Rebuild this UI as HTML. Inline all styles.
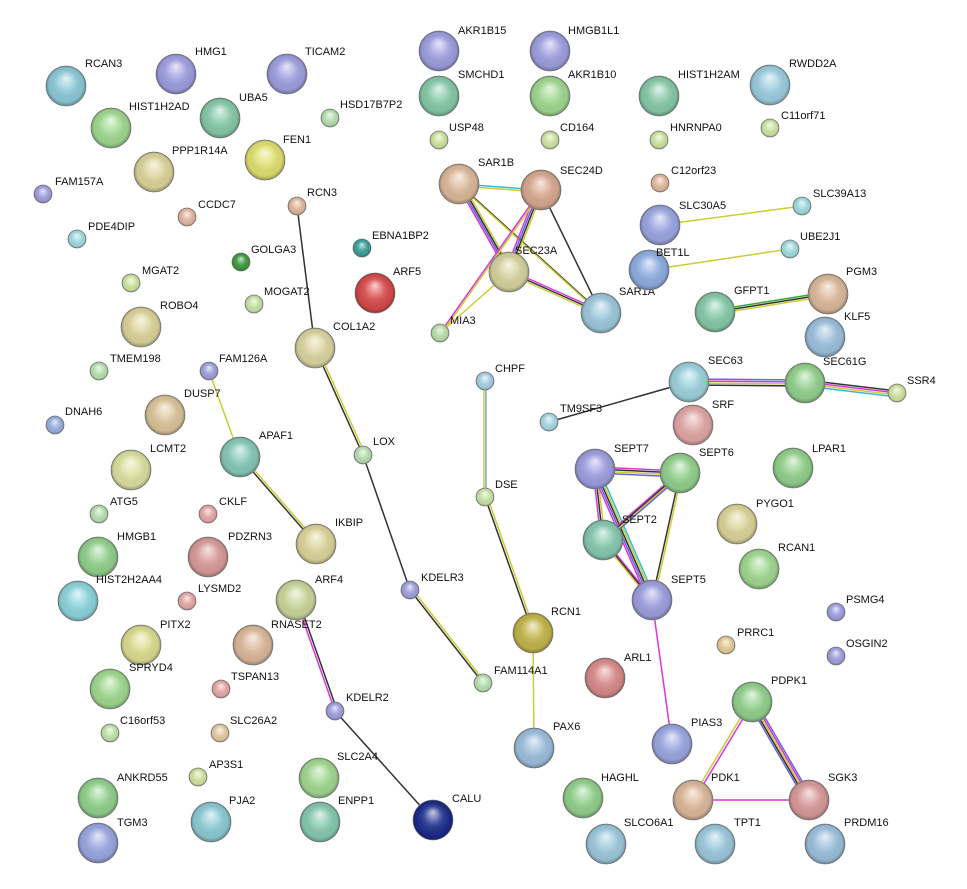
<!DOCTYPE html>
<html><head><meta charset="utf-8"><style>
html,body{margin:0;padding:0;background:#fff;}
svg{display:block}
text{font-family:"Liberation Sans",sans-serif;font-size:11px;fill:#111}
.n{stroke:#888;stroke-width:.8}
</style></head><body>
<svg width="967" height="889" viewBox="0 0 967 889" xmlns="http://www.w3.org/2000/svg">
<defs>
<radialGradient id="s" cx="0.5" cy="0.5" r="0.5" fx="0.5" fy="0.3">
<stop offset="0" stop-color="#fff" stop-opacity="0.75"/>
<stop offset="0.45" stop-color="#fff" stop-opacity="0.15"/>
<stop offset="0.85" stop-color="#000" stop-opacity="0.05"/>
<stop offset="1" stop-color="#000" stop-opacity="0.3"/>
</radialGradient>
</defs>
<!-- edges -->
<g fill="none" stroke-width="1.5">
<line x1="297" y1="206" x2="315" y2="348" stroke="#333"/>
<line x1="315" y1="348" x2="363" y2="455" stroke="#333"/><line x1="317" y1="347" x2="365" y2="454" stroke="#cc3"/>
<line x1="363" y1="455" x2="410" y2="590" stroke="#333"/>
<line x1="410" y1="590" x2="483" y2="683" stroke="#333"/><line x1="412" y1="589" x2="485" y2="682" stroke="#cc3"/>
<line x1="209" y1="371" x2="240" y2="457" stroke="#cc3"/>
<line x1="240" y1="457" x2="316" y2="544" stroke="#333"/><line x1="242" y1="456" x2="318" y2="543" stroke="#cc3"/>
<line x1="296" y1="600" x2="335" y2="711" stroke="#d3d"/><line x1="298" y1="599" x2="337" y2="710" stroke="#333"/>
<line x1="335" y1="711" x2="433" y2="820" stroke="#333"/>
<line x1="484" y1="381" x2="484" y2="497" stroke="#cc3"/><line x1="486" y1="381" x2="486" y2="497" stroke="#6ad"/>
<line x1="485" y1="497" x2="533" y2="633" stroke="#333"/><line x1="487" y1="496" x2="535" y2="632" stroke="#cc3"/>
<line x1="533" y1="633" x2="534" y2="748" stroke="#cc3"/>
<line x1="459" y1="184" x2="541" y2="190" stroke="#3bd"/><line x1="459" y1="186" x2="541" y2="192" stroke="#cc3"/>
<line x1="457" y1="184" x2="507" y2="272" stroke="#d3d"/><line x1="459" y1="184" x2="509" y2="272" stroke="#66d"/><line x1="461" y1="184" x2="511" y2="272" stroke="#333"/><line x1="463" y1="184" x2="513" y2="272" stroke="#cc3"/>
<line x1="459" y1="184" x2="601" y2="313" stroke="#333"/><line x1="460" y1="186" x2="602" y2="315" stroke="#cc3"/>
<line x1="537" y1="190" x2="505" y2="272" stroke="#d3d"/><line x1="539" y1="190" x2="507" y2="272" stroke="#66d"/><line x1="541" y1="190" x2="509" y2="272" stroke="#333"/><line x1="543" y1="190" x2="511" y2="272" stroke="#cc3"/>
<line x1="541" y1="190" x2="601" y2="313" stroke="#333"/>
<line x1="509" y1="270" x2="601" y2="311" stroke="#d3d"/><line x1="509" y1="272" x2="601" y2="313" stroke="#333"/><line x1="509" y1="274" x2="601" y2="315" stroke="#cc3"/>
<line x1="509" y1="272" x2="440" y2="333" stroke="#cc3"/>
<line x1="440" y1="333" x2="541" y2="190" stroke="#d3d"/><line x1="442" y1="333" x2="543" y2="190" stroke="#cc3"/>
<line x1="660" y1="225" x2="802" y2="206" stroke="#cc3"/>
<line x1="649" y1="270" x2="790" y2="249" stroke="#cc3"/>
<line x1="715" y1="310" x2="828" y2="292" stroke="#3a3"/><line x1="715" y1="312" x2="828" y2="294" stroke="#333"/><line x1="715" y1="314" x2="828" y2="296" stroke="#cc3"/>
<line x1="689" y1="382" x2="549" y2="422" stroke="#333"/>
<line x1="689" y1="379" x2="805" y2="380" stroke="#66d"/><line x1="689" y1="381" x2="805" y2="382" stroke="#d3d"/><line x1="689" y1="383" x2="805" y2="384" stroke="#cc3"/><line x1="689" y1="385" x2="805" y2="386" stroke="#333"/>
<line x1="805" y1="380" x2="897" y2="391" stroke="#333"/><line x1="805" y1="382" x2="897" y2="393" stroke="#d3d"/><line x1="805" y1="384" x2="897" y2="395" stroke="#cc3"/><line x1="805" y1="386" x2="897" y2="397" stroke="#3bd"/>
<g>
<line x1="595" y1="467" x2="680" y2="471" stroke="#d3d"/><line x1="595" y1="469" x2="680" y2="473" stroke="#333"/><line x1="595" y1="471" x2="680" y2="475" stroke="#cc3"/><line x1="595" y1="473" x2="680" y2="477" stroke="#66d"/>
<line x1="593" y1="469" x2="601" y2="540" stroke="#d3d"/><line x1="595" y1="469" x2="603" y2="540" stroke="#333"/><line x1="597" y1="469" x2="605" y2="540" stroke="#cc3"/>
<line x1="591" y1="469" x2="648" y2="600" stroke="#d3d"/><line x1="593" y1="469" x2="650" y2="600" stroke="#66d"/><line x1="595" y1="469" x2="652" y2="600" stroke="#333"/><line x1="597" y1="469" x2="654" y2="600" stroke="#cc3"/><line x1="599" y1="469" x2="656" y2="600" stroke="#3bd"/>
<line x1="678" y1="473" x2="601" y2="540" stroke="#d3d"/><line x1="680" y1="473" x2="603" y2="540" stroke="#333"/><line x1="682" y1="473" x2="605" y2="540" stroke="#cc3"/><line x1="684" y1="473" x2="607" y2="540" stroke="#66d"/>
<line x1="680" y1="473" x2="652" y2="600" stroke="#333"/><line x1="682" y1="473" x2="654" y2="600" stroke="#cc3"/>
<line x1="603" y1="538" x2="652" y2="598" stroke="#d3d"/><line x1="603" y1="540" x2="652" y2="600" stroke="#333"/><line x1="603" y1="542" x2="652" y2="602" stroke="#cc3"/>
</g>
<line x1="652" y1="600" x2="672" y2="744" stroke="#d3d"/>
<line x1="750" y1="702" x2="691" y2="800" stroke="#cc3"/><line x1="753" y1="702" x2="694" y2="800" stroke="#d3d"/>
<line x1="748" y1="702" x2="805" y2="800" stroke="#66d"/><line x1="750" y1="702" x2="807" y2="800" stroke="#333"/><line x1="752" y1="702" x2="809" y2="800" stroke="#cc3"/><line x1="754" y1="702" x2="811" y2="800" stroke="#d3d"/><line x1="756" y1="702" x2="813" y2="800" stroke="#66d"/>
<line x1="693" y1="800" x2="809" y2="800" stroke="#d3d"/>
</g>
<!-- nodes -->
<g class="nodes">
<circle class="n" cx="66" cy="86" r="20" fill="#8cc8d8"/><circle cx="66" cy="86" r="20" fill="url(#s)"/><text x="85" y="67">RCAN3</text>
<circle class="n" cx="176" cy="74" r="20" fill="#9e9ee0"/><circle cx="176" cy="74" r="20" fill="url(#s)"/><text x="195" y="55">HMG1</text>
<circle class="n" cx="287" cy="74" r="20" fill="#9e9ee0"/><circle cx="287" cy="74" r="20" fill="url(#s)"/><text x="305" y="55">TICAM2</text>
<circle class="n" cx="220" cy="118" r="20" fill="#86c9a8"/><circle cx="220" cy="118" r="20" fill="url(#s)"/><text x="239" y="101">UBA5</text>
<circle class="n" cx="111" cy="128" r="20" fill="#a0d890"/><circle cx="111" cy="128" r="20" fill="url(#s)"/><text x="129" y="110">HIST1H2AD</text>
<circle class="n" cx="265" cy="160" r="20" fill="#e0e070"/><circle cx="265" cy="160" r="20" fill="url(#s)"/><text x="283" y="143">FEN1</text>
<circle class="n" cx="154" cy="172" r="20" fill="#dcd49a"/><circle cx="154" cy="172" r="20" fill="url(#s)"/><text x="172" y="154">PPP1R14A</text>
<circle class="n" cx="439" cy="51" r="20" fill="#9e9ee0"/><circle cx="439" cy="51" r="20" fill="url(#s)"/><text x="458" y="34">AKR1B15</text>
<circle class="n" cx="550" cy="51" r="20" fill="#9e9ee0"/><circle cx="550" cy="51" r="20" fill="url(#s)"/><text x="568" y="34">HMGB1L1</text>
<circle class="n" cx="439" cy="96" r="20" fill="#86c9a8"/><circle cx="439" cy="96" r="20" fill="url(#s)"/><text x="458" y="78">SMCHD1</text>
<circle class="n" cx="550" cy="96" r="20" fill="#a0d890"/><circle cx="550" cy="96" r="20" fill="url(#s)"/><text x="568" y="78">AKR1B10</text>
<circle class="n" cx="659" cy="96" r="20" fill="#86c9a8"/><circle cx="659" cy="96" r="20" fill="url(#s)"/><text x="678" y="78">HIST1H2AM</text>
<circle class="n" cx="770" cy="85" r="20" fill="#9ccde0"/><circle cx="770" cy="85" r="20" fill="url(#s)"/><text x="789" y="67">RWDD2A</text>
<circle class="n" cx="459" cy="184" r="20" fill="#dcb89a"/><circle cx="459" cy="184" r="20" fill="url(#s)"/><text x="478" y="166">SAR1B</text>
<circle class="n" cx="541" cy="190" r="20" fill="#d8a890"/><circle cx="541" cy="190" r="20" fill="url(#s)"/><text x="560" y="174">SEC24D</text>
<circle class="n" cx="509" cy="272" r="20" fill="#d6d29e"/><circle cx="509" cy="272" r="20" fill="url(#s)"/><text x="515" y="254">SEC23A</text>
<circle class="n" cx="601" cy="313" r="20" fill="#9cc8dc"/><circle cx="601" cy="313" r="20" fill="url(#s)"/><text x="619" y="295">SAR1A</text>
<circle class="n" cx="660" cy="225" r="20" fill="#9aa6e0"/><circle cx="660" cy="225" r="20" fill="url(#s)"/><text x="679" y="209">SLC30A5</text>
<circle class="n" cx="649" cy="270" r="20" fill="#8eaee0"/><circle cx="649" cy="270" r="20" fill="url(#s)"/><text x="656" y="256">BET1L</text>
<circle class="n" cx="375" cy="293" r="20" fill="#d84a4a"/><circle cx="375" cy="293" r="20" fill="url(#s)"/><text x="393" y="275">ARF5</text>
<circle class="n" cx="715" cy="312" r="20" fill="#86c9a8"/><circle cx="715" cy="312" r="20" fill="url(#s)"/><text x="734" y="294">GFPT1</text>
<circle class="n" cx="828" cy="294" r="20" fill="#dcb89a"/><circle cx="828" cy="294" r="20" fill="url(#s)"/><text x="846" y="275">PGM3</text>
<circle class="n" cx="825" cy="337" r="20" fill="#9cc0dc"/><circle cx="825" cy="337" r="20" fill="url(#s)"/><text x="844" y="320">KLF5</text>
<circle class="n" cx="315" cy="348" r="20" fill="#dcd4a0"/><circle cx="315" cy="348" r="20" fill="url(#s)"/><text x="333" y="330">COL1A2</text>
<circle class="n" cx="141" cy="327" r="20" fill="#dcd49a"/><circle cx="141" cy="327" r="20" fill="url(#s)"/><text x="160" y="309">ROBO4</text>
<circle class="n" cx="165" cy="415" r="20" fill="#dcc49a"/><circle cx="165" cy="415" r="20" fill="url(#s)"/><text x="184" y="397">DUSP7</text>
<circle class="n" cx="689" cy="382" r="20" fill="#9cd2dc"/><circle cx="689" cy="382" r="20" fill="url(#s)"/><text x="708" y="364">SEC63</text>
<circle class="n" cx="805" cy="383" r="20" fill="#92d08c"/><circle cx="805" cy="383" r="20" fill="url(#s)"/><text x="823" y="365">SEC61G</text>
<circle class="n" cx="693" cy="425" r="20" fill="#e0a6a6"/><circle cx="693" cy="425" r="20" fill="url(#s)"/><text x="712" y="408">SRF</text>
<circle class="n" cx="131" cy="470" r="20" fill="#dce0a0"/><circle cx="131" cy="470" r="20" fill="url(#s)"/><text x="150" y="452">LCMT2</text>
<circle class="n" cx="240" cy="457" r="20" fill="#86c8b8"/><circle cx="240" cy="457" r="20" fill="url(#s)"/><text x="259" y="439">APAF1</text>
<circle class="n" cx="595" cy="469" r="20" fill="#9e9ee0"/><circle cx="595" cy="469" r="20" fill="url(#s)"/><text x="614" y="452">SEPT7</text>
<circle class="n" cx="680" cy="473" r="20" fill="#92d08c"/><circle cx="680" cy="473" r="20" fill="url(#s)"/><text x="699" y="456">SEPT6</text>
<circle class="n" cx="793" cy="468" r="20" fill="#92d08c"/><circle cx="793" cy="468" r="20" fill="url(#s)"/><text x="812" y="452">LPAR1</text>
<circle class="n" cx="603" cy="540" r="20" fill="#86c8b0"/><circle cx="603" cy="540" r="20" fill="url(#s)"/><text x="622" y="523">SEPT2</text>
<circle class="n" cx="737" cy="524" r="20" fill="#dcd49a"/><circle cx="737" cy="524" r="20" fill="url(#s)"/><text x="756" y="507">PYGO1</text>
<circle class="n" cx="316" cy="544" r="20" fill="#dcd49a"/><circle cx="316" cy="544" r="20" fill="url(#s)"/><text x="335" y="526">IKBIP</text>
<circle class="n" cx="98" cy="557" r="20" fill="#92d08c"/><circle cx="98" cy="557" r="20" fill="url(#s)"/><text x="117" y="540">HMGB1</text>
<circle class="n" cx="208" cy="557" r="20" fill="#d89a9a"/><circle cx="208" cy="557" r="20" fill="url(#s)"/><text x="228" y="540">PDZRN3</text>
<circle class="n" cx="78" cy="601" r="20" fill="#8cd4dc"/><circle cx="78" cy="601" r="20" fill="url(#s)"/><text x="96" y="583">HIST2H2AA4</text>
<circle class="n" cx="296" cy="600" r="20" fill="#cad69a"/><circle cx="296" cy="600" r="20" fill="url(#s)"/><text x="315" y="583">ARF4</text>
<circle class="n" cx="759" cy="569" r="20" fill="#a0d890"/><circle cx="759" cy="569" r="20" fill="url(#s)"/><text x="778" y="551">RCAN1</text>
<circle class="n" cx="652" cy="600" r="20" fill="#9e9ee0"/><circle cx="652" cy="600" r="20" fill="url(#s)"/><text x="671" y="583">SEPT5</text>
<circle class="n" cx="253" cy="645" r="20" fill="#dcb89a"/><circle cx="253" cy="645" r="20" fill="url(#s)"/><text x="271" y="628">RNASET2</text>
<circle class="n" cx="141" cy="645" r="20" fill="#dcdc90"/><circle cx="141" cy="645" r="20" fill="url(#s)"/><text x="160" y="628">PITX2</text>
<circle class="n" cx="533" cy="633" r="20" fill="#c4b44a"/><circle cx="533" cy="633" r="20" fill="url(#s)"/><text x="551" y="615">RCN1</text>
<circle class="n" cx="605" cy="678" r="20" fill="#d88a8a"/><circle cx="605" cy="678" r="20" fill="url(#s)"/><text x="624" y="661">ARL1</text>
<circle class="n" cx="110" cy="689" r="20" fill="#a0d890"/><circle cx="110" cy="689" r="20" fill="url(#s)"/><text x="129" y="671">SPRYD4</text>
<circle class="n" cx="752" cy="702" r="20" fill="#92d08c"/><circle cx="752" cy="702" r="20" fill="url(#s)"/><text x="771" y="684">PDPK1</text>
<circle class="n" cx="672" cy="744" r="20" fill="#9aa6e0"/><circle cx="672" cy="744" r="20" fill="url(#s)"/><text x="691" y="726">PIAS3</text>
<circle class="n" cx="534" cy="748" r="20" fill="#9cbedc"/><circle cx="534" cy="748" r="20" fill="url(#s)"/><text x="553" y="730">PAX6</text>
<circle class="n" cx="319" cy="778" r="20" fill="#a0d890"/><circle cx="319" cy="778" r="20" fill="url(#s)"/><text x="337" y="760">SLC2A4</text>
<circle class="n" cx="98" cy="798" r="20" fill="#92d08c"/><circle cx="98" cy="798" r="20" fill="url(#s)"/><text x="117" y="781">ANKRD55</text>
<circle class="n" cx="583" cy="798" r="20" fill="#92d08c"/><circle cx="583" cy="798" r="20" fill="url(#s)"/><text x="601" y="781">HAGHL</text>
<circle class="n" cx="693" cy="800" r="20" fill="#dcb89a"/><circle cx="693" cy="800" r="20" fill="url(#s)"/><text x="711" y="781">PDK1</text>
<circle class="n" cx="809" cy="800" r="20" fill="#d89a9a"/><circle cx="809" cy="800" r="20" fill="url(#s)"/><text x="828" y="781">SGK3</text>
<circle class="n" cx="211" cy="822" r="20" fill="#8ccad4"/><circle cx="211" cy="822" r="20" fill="url(#s)"/><text x="229" y="804">PJA2</text>
<circle class="n" cx="320" cy="822" r="20" fill="#86c8b0"/><circle cx="320" cy="822" r="20" fill="url(#s)"/><text x="338" y="804">ENPP1</text>
<circle class="n" cx="433" cy="820" r="20" fill="#1c2c8c"/><circle cx="433" cy="820" r="20" fill="url(#s)"/><text x="452" y="802">CALU</text>
<circle class="n" cx="98" cy="843" r="20" fill="#9aa6e0"/><circle cx="98" cy="843" r="20" fill="url(#s)"/><text x="117" y="826">TGM3</text>
<circle class="n" cx="606" cy="844" r="20" fill="#9cc8dc"/><circle cx="606" cy="844" r="20" fill="url(#s)"/><text x="624" y="826">SLCO6A1</text>
<circle class="n" cx="715" cy="844" r="20" fill="#9cc8dc"/><circle cx="715" cy="844" r="20" fill="url(#s)"/><text x="734" y="826">TPT1</text>
<circle class="n" cx="825" cy="844" r="20" fill="#9cc0dc"/><circle cx="825" cy="844" r="20" fill="url(#s)"/><text x="844" y="826">PRDM16</text>

<circle class="n" cx="330" cy="118" r="9" fill="#b8e0b0"/><circle cx="330" cy="118" r="9" fill="url(#s)"/><text x="340" y="108">HSD17B7P2</text>
<circle class="n" cx="439" cy="140" r="9" fill="#d0e4a0"/><circle cx="439" cy="140" r="9" fill="url(#s)"/><text x="449" y="131">USP48</text>
<circle class="n" cx="550" cy="140" r="9" fill="#d0e4a0"/><circle cx="550" cy="140" r="9" fill="url(#s)"/><text x="560" y="131">CD164</text>
<circle class="n" cx="659" cy="140" r="9" fill="#d0e4a0"/><circle cx="659" cy="140" r="9" fill="url(#s)"/><text x="670" y="131">HNRNPA0</text>
<circle class="n" cx="770" cy="128" r="9" fill="#d0e4a0"/><circle cx="770" cy="128" r="9" fill="url(#s)"/><text x="781" y="119">C11orf71</text>
<circle class="n" cx="43" cy="194" r="9" fill="#a0a0e0"/><circle cx="43" cy="194" r="9" fill="url(#s)"/><text x="55" y="185">FAM157A</text>
<circle class="n" cx="187" cy="217" r="9" fill="#e4b8a0"/><circle cx="187" cy="217" r="9" fill="url(#s)"/><text x="198" y="208">CCDC7</text>
<circle class="n" cx="297" cy="206" r="9" fill="#e4b8a0"/><circle cx="297" cy="206" r="9" fill="url(#s)"/><text x="307" y="196">RCN3</text>
<circle class="n" cx="660" cy="183" r="9" fill="#e4b8a0"/><circle cx="660" cy="183" r="9" fill="url(#s)"/><text x="671" y="174">C12orf23</text>
<circle class="n" cx="802" cy="206" r="9" fill="#a0dce0"/><circle cx="802" cy="206" r="9" fill="url(#s)"/><text x="813" y="197">SLC39A13</text>
<circle class="n" cx="77" cy="239" r="9" fill="#a0dce0"/><circle cx="77" cy="239" r="9" fill="url(#s)"/><text x="88" y="230">PDE4DIP</text>
<circle class="n" cx="362" cy="248" r="9" fill="#3aa09a"/><circle cx="362" cy="248" r="9" fill="url(#s)"/><text x="372" y="239">EBNA1BP2</text>
<circle class="n" cx="790" cy="249" r="9" fill="#a0dce0"/><circle cx="790" cy="249" r="9" fill="url(#s)"/><text x="800" y="240">UBE2J1</text>
<circle class="n" cx="241" cy="262" r="9" fill="#3c9a3c"/><circle cx="241" cy="262" r="9" fill="url(#s)"/><text x="251" y="253">GOLGA3</text>
<circle class="n" cx="131" cy="283" r="9" fill="#d0e4a0"/><circle cx="131" cy="283" r="9" fill="url(#s)"/><text x="142" y="274">MGAT2</text>
<circle class="n" cx="254" cy="304" r="9" fill="#c8e4a8"/><circle cx="254" cy="304" r="9" fill="url(#s)"/><text x="264" y="295">MOGAT2</text>
<circle class="n" cx="440" cy="333" r="9" fill="#b8e0a8"/><circle cx="440" cy="333" r="9" fill="url(#s)"/><text x="450" y="324">MIA3</text>
<circle class="n" cx="99" cy="371" r="9" fill="#b8e0b0"/><circle cx="99" cy="371" r="9" fill="url(#s)"/><text x="110" y="362">TMEM198</text>
<circle class="n" cx="209" cy="371" r="9" fill="#a0a0e0"/><circle cx="209" cy="371" r="9" fill="url(#s)"/><text x="219" y="362">FAM126A</text>
<circle class="n" cx="485" cy="381" r="9" fill="#a8d0e4"/><circle cx="485" cy="381" r="9" fill="url(#s)"/><text x="495" y="372">CHPF</text>
<circle class="n" cx="897" cy="393" r="9" fill="#d0e4a0"/><circle cx="897" cy="393" r="9" fill="url(#s)"/><text x="907" y="384">SSR4</text>
<circle class="n" cx="549" cy="422" r="9" fill="#a8d8e4"/><circle cx="549" cy="422" r="9" fill="url(#s)"/><text x="560" y="412">TM9SF3</text>
<circle class="n" cx="55" cy="425" r="9" fill="#9ab0e0"/><circle cx="55" cy="425" r="9" fill="url(#s)"/><text x="65" y="415">DNAH6</text>
<circle class="n" cx="363" cy="455" r="9" fill="#b8e0b0"/><circle cx="363" cy="455" r="9" fill="url(#s)"/><text x="373" y="445">LOX</text>
<circle class="n" cx="485" cy="497" r="9" fill="#c8e4a8"/><circle cx="485" cy="497" r="9" fill="url(#s)"/><text x="495" y="488">DSE</text>
<circle class="n" cx="208" cy="514" r="9" fill="#e8a8a8"/><circle cx="208" cy="514" r="9" fill="url(#s)"/><text x="219" y="505">CKLF</text>
<circle class="n" cx="99" cy="514" r="9" fill="#b8e0b0"/><circle cx="99" cy="514" r="9" fill="url(#s)"/><text x="110" y="505">ATG5</text>
<circle class="n" cx="187" cy="601" r="9" fill="#e8a8a8"/><circle cx="187" cy="601" r="9" fill="url(#s)"/><text x="198" y="592">LYSMD2</text>
<circle class="n" cx="410" cy="590" r="9" fill="#a0a0e0"/><circle cx="410" cy="590" r="9" fill="url(#s)"/><text x="421" y="581">KDELR3</text>
<circle class="n" cx="836" cy="612" r="9" fill="#a0a0e0"/><circle cx="836" cy="612" r="9" fill="url(#s)"/><text x="846" y="603">PSMG4</text>
<circle class="n" cx="726" cy="645" r="9" fill="#e4cc98"/><circle cx="726" cy="645" r="9" fill="url(#s)"/><text x="737" y="636">PRRC1</text>
<circle class="n" cx="836" cy="656" r="9" fill="#a0a0e0"/><circle cx="836" cy="656" r="9" fill="url(#s)"/><text x="846" y="647">OSGIN2</text>
<circle class="n" cx="221" cy="689" r="9" fill="#e8a8a8"/><circle cx="221" cy="689" r="9" fill="url(#s)"/><text x="231" y="680">TSPAN13</text>
<circle class="n" cx="483" cy="683" r="9" fill="#b8e0b0"/><circle cx="483" cy="683" r="9" fill="url(#s)"/><text x="494" y="674">FAM114A1</text>
<circle class="n" cx="335" cy="711" r="9" fill="#a0a0e0"/><circle cx="335" cy="711" r="9" fill="url(#s)"/><text x="346" y="701">KDELR2</text>
<circle class="n" cx="110" cy="733" r="9" fill="#c0e4a8"/><circle cx="110" cy="733" r="9" fill="url(#s)"/><text x="120" y="724">C16orf53</text>
<circle class="n" cx="220" cy="733" r="9" fill="#e4cca0"/><circle cx="220" cy="733" r="9" fill="url(#s)"/><text x="230" y="724">SLC26A2</text>
<circle class="n" cx="198" cy="777" r="9" fill="#d0e4a0"/><circle cx="198" cy="777" r="9" fill="url(#s)"/><text x="209" y="768">AP3S1</text>
</g>
</svg>
</body></html>
